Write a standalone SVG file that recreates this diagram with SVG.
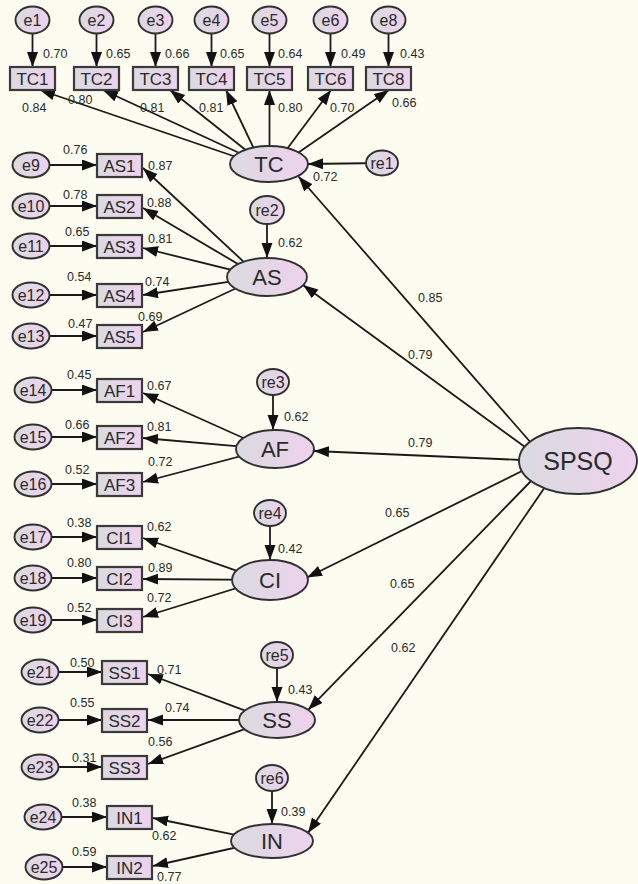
<svg xmlns="http://www.w3.org/2000/svg" width="638" height="884" viewBox="0 0 638 884">
  <defs>
    <linearGradient id="fillGrad" x1="0" y1="0" x2="1" y2="0">
      <stop offset="0" stop-color="#DADAE0"/>
      <stop offset="1" stop-color="#EED2ED"/>
    </linearGradient>
    <marker id="arrow" markerUnits="userSpaceOnUse" markerWidth="17" markerHeight="12" refX="15" refY="5.5" orient="auto">
      <path d="M0,0 L15,5.5 L0,11 Z" fill="#111"/>
    </marker>
    <style>
      .bg { fill: #FCFCF0; }
      .conn line { stroke: #1a1a1a; stroke-width: 1.8; marker-end: url(#arrow); }
      .shape { fill: url(#fillGrad); stroke: #303030; stroke-width: 1.9; }
      .box { fill: url(#fillGrad); stroke: #3a3a3a; stroke-width: 2.2; }
      text { font-family: "Liberation Sans", Arial, sans-serif; fill: #2a2a2a; }
      .num { font-size: 12.5px; }
      .obs { font-size: 17px; text-anchor: middle; }
      .err { font-size: 16px; text-anchor: middle; }
      .lat { font-size: 22px; text-anchor: middle; }
      .big { font-size: 25px; text-anchor: middle; }
    </style>
  </defs>

  <rect class="bg" x="0" y="0" width="638" height="884"/>

  <!-- connectors -->
  <g id="connectors" class="conn">
    <!-- TC indicators: error terms -->
    <line x1="32.5" y1="20" x2="32.5" y2="67"/>
    <line x1="96.5" y1="20" x2="96.5" y2="67"/>
    <line x1="155.5" y1="20" x2="155.5" y2="67"/>
    <line x1="211.5" y1="20" x2="211.5" y2="67"/>
    <line x1="269.5" y1="20" x2="269.5" y2="67"/>
    <line x1="330.5" y1="20" x2="330.5" y2="67"/>
    <line x1="388.5" y1="20" x2="388.5" y2="67"/>
    <!-- TC loadings -->
    <line x1="245" y1="160" x2="40" y2="90"/>
    <line x1="248" y1="157" x2="103" y2="90"/>
    <line x1="252" y1="155" x2="170" y2="90"/>
    <line x1="256" y1="153" x2="226" y2="90"/>
    <line x1="269.5" y1="155" x2="269.5" y2="90"/>
    <line x1="284" y1="153" x2="331" y2="90"/>
    <line x1="292" y1="157" x2="389" y2="90"/>
    <line x1="382" y1="163" x2="308" y2="164"/>

    <!-- AS -->
    <line x1="31" y1="165" x2="97" y2="165"/>
    <line x1="31" y1="206" x2="97" y2="206"/>
    <line x1="31" y1="246" x2="97" y2="246"/>
    <line x1="31" y1="295" x2="97" y2="295"/>
    <line x1="31" y1="336" x2="97" y2="336"/>
    <line x1="260" y1="277" x2="143" y2="168"/>
    <line x1="260" y1="277" x2="143" y2="208"/>
    <line x1="260" y1="277" x2="143" y2="248"/>
    <line x1="260" y1="277" x2="143" y2="295"/>
    <line x1="260" y1="277" x2="143" y2="332"/>
    <line x1="267" y1="210" x2="267" y2="258"/>

    <!-- AF -->
    <line x1="33" y1="390" x2="97" y2="390"/>
    <line x1="33" y1="437" x2="97" y2="437"/>
    <line x1="33" y1="484" x2="97" y2="484"/>
    <line x1="268" y1="449" x2="143" y2="393"/>
    <line x1="268" y1="449" x2="143" y2="438"/>
    <line x1="268" y1="449" x2="143" y2="482"/>
    <line x1="273" y1="382" x2="273" y2="430"/>

    <!-- CI -->
    <line x1="33" y1="537" x2="97" y2="537"/>
    <line x1="33" y1="578" x2="97" y2="578"/>
    <line x1="33" y1="620" x2="97" y2="620"/>
    <line x1="263" y1="580" x2="143" y2="538"/>
    <line x1="263" y1="580" x2="143" y2="579"/>
    <line x1="263" y1="580" x2="143" y2="617"/>
    <line x1="270" y1="513" x2="270" y2="560"/>

    <!-- SS -->
    <line x1="40" y1="672" x2="102" y2="672"/>
    <line x1="40" y1="720" x2="102" y2="720"/>
    <line x1="40" y1="767" x2="102" y2="767"/>
    <line x1="270" y1="720" x2="148" y2="674"/>
    <line x1="270" y1="720" x2="148" y2="720"/>
    <line x1="270" y1="720" x2="148" y2="764"/>
    <line x1="277" y1="655" x2="277" y2="702"/>

    <!-- IN -->
    <line x1="43" y1="817" x2="107" y2="817"/>
    <line x1="44" y1="867" x2="107" y2="867"/>
    <line x1="265" y1="841" x2="153" y2="818"/>
    <line x1="265" y1="841" x2="153" y2="866"/>
    <line x1="272" y1="778" x2="272" y2="824"/>

    <!-- SPSQ structural paths -->
    <line x1="532" y1="444" x2="298.5" y2="176.5"/>
    <line x1="525" y1="447" x2="303" y2="285"/>
    <line x1="522" y1="460" x2="314" y2="451"/>
    <line x1="524" y1="470" x2="307" y2="577.5"/>
    <line x1="532" y1="480" x2="308.3" y2="709.7"/>
    <line x1="545" y1="487" x2="308" y2="833"/>
  </g>

  <!-- path coefficients -->
  <g id="coefficients">
    <text class="num" x="43" y="58">0.70</text>
    <text class="num" x="106" y="58">0.65</text>
    <text class="num" x="165" y="58">0.66</text>
    <text class="num" x="220" y="58">0.65</text>
    <text class="num" x="278" y="58">0.64</text>
    <text class="num" x="341" y="58">0.49</text>
    <text class="num" x="400" y="58">0.43</text>
    <text class="num" x="22" y="112">0.84</text>
    <text class="num" x="68" y="104">0.80</text>
    <text class="num" x="140" y="112">0.81</text>
    <text class="num" x="199" y="112">0.81</text>
    <text class="num" x="278" y="112">0.80</text>
    <text class="num" x="330" y="112">0.70</text>
    <text class="num" x="392" y="107">0.66</text>
    <text class="num" x="313" y="181">0.72</text>

    <text class="num" x="63" y="154">0.76</text>
    <text class="num" x="148" y="170">0.87</text>
    <text class="num" x="63" y="199">0.78</text>
    <text class="num" x="147" y="207">0.88</text>
    <text class="num" x="65" y="236">0.65</text>
    <text class="num" x="148" y="243">0.81</text>
    <text class="num" x="67" y="281">0.54</text>
    <text class="num" x="145" y="286">0.74</text>
    <text class="num" x="138" y="321">0.69</text>
    <text class="num" x="68" y="328">0.47</text>
    <text class="num" x="278" y="247">0.62</text>
    <text class="num" x="418" y="302">0.85</text>
    <text class="num" x="408" y="359">0.79</text>

    <text class="num" x="67" y="379">0.45</text>
    <text class="num" x="147" y="390">0.67</text>
    <text class="num" x="65" y="429">0.66</text>
    <text class="num" x="147" y="431">0.81</text>
    <text class="num" x="65" y="474">0.52</text>
    <text class="num" x="148" y="466">0.72</text>
    <text class="num" x="284" y="421">0.62</text>
    <text class="num" x="408" y="447">0.79</text>

    <text class="num" x="67" y="527">0.38</text>
    <text class="num" x="147" y="531">0.62</text>
    <text class="num" x="67" y="567">0.80</text>
    <text class="num" x="148" y="572">0.89</text>
    <text class="num" x="147" y="602">0.72</text>
    <text class="num" x="67" y="612">0.52</text>
    <text class="num" x="278" y="553">0.42</text>
    <text class="num" x="385" y="517">0.65</text>
    <text class="num" x="390" y="588">0.65</text>
    <text class="num" x="391" y="652">0.62</text>

    <text class="num" x="70" y="667">0.50</text>
    <text class="num" x="157" y="674">0.71</text>
    <text class="num" x="70" y="707">0.55</text>
    <text class="num" x="165" y="712">0.74</text>
    <text class="num" x="148" y="746">0.56</text>
    <text class="num" x="72" y="762">0.31</text>
    <text class="num" x="288" y="694">0.43</text>

    <text class="num" x="72" y="807">0.38</text>
    <text class="num" x="152" y="840">0.62</text>
    <text class="num" x="72" y="856">0.59</text>
    <text class="num" x="157" y="881">0.77</text>
    <text class="num" x="281" y="816">0.39</text>
  </g>

  <!-- error terms, TC indicators -->
  <g id="e1"><ellipse class="shape" cx="32.5" cy="20" rx="17" ry="13.5"/><text class="err" x="32.5" y="25.5">e1</text></g>
  <g id="e2"><ellipse class="shape" cx="96.5" cy="20" rx="17" ry="13.5"/><text class="err" x="96.5" y="25.5">e2</text></g>
  <g id="e3"><ellipse class="shape" cx="155.5" cy="20" rx="17" ry="13.5"/><text class="err" x="155.5" y="25.5">e3</text></g>
  <g id="e4"><ellipse class="shape" cx="211.5" cy="20" rx="17" ry="13.5"/><text class="err" x="211.5" y="25.5">e4</text></g>
  <g id="e5"><ellipse class="shape" cx="269.5" cy="20" rx="17" ry="13.5"/><text class="err" x="269.5" y="25.5">e5</text></g>
  <g id="e6"><ellipse class="shape" cx="330.5" cy="20" rx="17" ry="13.5"/><text class="err" x="330.5" y="25.5">e6</text></g>
  <g id="e8"><ellipse class="shape" cx="388.5" cy="20" rx="17" ry="13.5"/><text class="err" x="388.5" y="25.5">e8</text></g>

  <!-- TC indicators -->
  <g id="TC1"><rect class="box" x="10" y="67" width="45" height="23"/><text class="obs" x="32.5" y="84.5">TC1</text></g>
  <g id="TC2"><rect class="box" x="74" y="67" width="45" height="23"/><text class="obs" x="96.5" y="84.5">TC2</text></g>
  <g id="TC3"><rect class="box" x="133" y="67" width="45" height="23"/><text class="obs" x="155.5" y="84.5">TC3</text></g>
  <g id="TC4"><rect class="box" x="189" y="67" width="45" height="23"/><text class="obs" x="211.5" y="84.5">TC4</text></g>
  <g id="TC5"><rect class="box" x="247" y="67" width="45" height="23"/><text class="obs" x="269.5" y="84.5">TC5</text></g>
  <g id="TC6"><rect class="box" x="308" y="67" width="45" height="23"/><text class="obs" x="330.5" y="84.5">TC6</text></g>
  <g id="TC8"><rect class="box" x="366" y="67" width="45" height="23"/><text class="obs" x="388.5" y="84.5">TC8</text></g>

  <!-- AS block -->
  <g id="e9"><ellipse class="shape" cx="31" cy="165" rx="18.5" ry="12.5"/><text class="err" x="31" y="170.5">e9</text></g>
  <g id="e10"><ellipse class="shape" cx="31" cy="206" rx="18.5" ry="12.5"/><text class="err" x="31" y="211.5">e10</text></g>
  <g id="e11"><ellipse class="shape" cx="31" cy="246" rx="18.5" ry="12.5"/><text class="err" x="31" y="251.5">e11</text></g>
  <g id="e12"><ellipse class="shape" cx="31" cy="295" rx="18.5" ry="12.5"/><text class="err" x="31" y="300.5">e12</text></g>
  <g id="e13"><ellipse class="shape" cx="31" cy="336" rx="18.5" ry="12.5"/><text class="err" x="31" y="341.5">e13</text></g>
  <g id="AS1"><rect class="box" x="97" y="154" width="45" height="23"/><text class="obs" x="119.5" y="171.5">AS1</text></g>
  <g id="AS2"><rect class="box" x="97" y="195" width="45" height="23"/><text class="obs" x="119.5" y="212.5">AS2</text></g>
  <g id="AS3"><rect class="box" x="97" y="235" width="45" height="23"/><text class="obs" x="119.5" y="252.5">AS3</text></g>
  <g id="AS4"><rect class="box" x="97" y="284" width="45" height="23"/><text class="obs" x="119.5" y="301.5">AS4</text></g>
  <g id="AS5"><rect class="box" x="97" y="325" width="45" height="23"/><text class="obs" x="119.5" y="342.5">AS5</text></g>

  <!-- AF block -->
  <g id="e14"><ellipse class="shape" cx="33" cy="390" rx="18.5" ry="12.5"/><text class="err" x="33" y="395.5">e14</text></g>
  <g id="e15"><ellipse class="shape" cx="33" cy="437" rx="18.5" ry="12.5"/><text class="err" x="33" y="442.5">e15</text></g>
  <g id="e16"><ellipse class="shape" cx="33" cy="484" rx="18.5" ry="12.5"/><text class="err" x="33" y="489.5">e16</text></g>
  <g id="AF1"><rect class="box" x="97" y="379" width="45" height="23"/><text class="obs" x="119.5" y="396.5">AF1</text></g>
  <g id="AF2"><rect class="box" x="97" y="426" width="45" height="23"/><text class="obs" x="119.5" y="443.5">AF2</text></g>
  <g id="AF3"><rect class="box" x="97" y="473" width="45" height="23"/><text class="obs" x="119.5" y="490.5">AF3</text></g>

  <!-- CI block -->
  <g id="e17"><ellipse class="shape" cx="33" cy="537" rx="18.5" ry="12.5"/><text class="err" x="33" y="542.5">e17</text></g>
  <g id="e18"><ellipse class="shape" cx="33" cy="578" rx="18.5" ry="12.5"/><text class="err" x="33" y="583.5">e18</text></g>
  <g id="e19"><ellipse class="shape" cx="33" cy="620" rx="18.5" ry="12.5"/><text class="err" x="33" y="625.5">e19</text></g>
  <g id="CI1"><rect class="box" x="97" y="526" width="45" height="23"/><text class="obs" x="119.5" y="543.5">CI1</text></g>
  <g id="CI2"><rect class="box" x="97" y="567" width="45" height="23"/><text class="obs" x="119.5" y="584.5">CI2</text></g>
  <g id="CI3"><rect class="box" x="97" y="609" width="45" height="23"/><text class="obs" x="119.5" y="626.5">CI3</text></g>

  <!-- SS block -->
  <g id="e21"><ellipse class="shape" cx="40" cy="672" rx="18.5" ry="12.5"/><text class="err" x="40" y="677.5">e21</text></g>
  <g id="e22"><ellipse class="shape" cx="40" cy="720" rx="18.5" ry="12.5"/><text class="err" x="40" y="725.5">e22</text></g>
  <g id="e23"><ellipse class="shape" cx="40" cy="767" rx="18.5" ry="12.5"/><text class="err" x="40" y="772.5">e23</text></g>
  <g id="SS1"><rect class="box" x="102" y="661" width="45" height="23"/><text class="obs" x="124.5" y="678.5">SS1</text></g>
  <g id="SS2"><rect class="box" x="102" y="709" width="45" height="23"/><text class="obs" x="124.5" y="726.5">SS2</text></g>
  <g id="SS3"><rect class="box" x="102" y="756" width="45" height="23"/><text class="obs" x="124.5" y="773.5">SS3</text></g>

  <!-- IN block -->
  <g id="e24"><ellipse class="shape" cx="43" cy="817" rx="18.5" ry="12.5"/><text class="err" x="43" y="822.5">e24</text></g>
  <g id="e25"><ellipse class="shape" cx="44" cy="867" rx="18.5" ry="12.5"/><text class="err" x="44" y="872.5">e25</text></g>
  <g id="IN1"><rect class="box" x="107" y="806" width="45" height="23"/><text class="obs" x="129.5" y="823.5">IN1</text></g>
  <g id="IN2"><rect class="box" x="107" y="856" width="45" height="23"/><text class="obs" x="129.5" y="873.5">IN2</text></g>

  <!-- latent factors -->
  <g id="TC"><ellipse class="shape" cx="269" cy="164" rx="39" ry="18"/><text class="lat" x="269" y="172">TC</text></g>
  <g id="AS"><ellipse class="shape" cx="267" cy="277" rx="40" ry="19"/><text class="lat" x="267" y="285">AS</text></g>
  <g id="AF"><ellipse class="shape" cx="275" cy="449" rx="39" ry="19"/><text class="lat" x="275" y="457">AF</text></g>
  <g id="CI"><ellipse class="shape" cx="270" cy="580" rx="38" ry="20"/><text class="lat" x="270" y="588">CI</text></g>
  <g id="SS"><ellipse class="shape" cx="277" cy="720" rx="38" ry="18"/><text class="lat" x="277" y="728">SS</text></g>
  <g id="IN"><ellipse class="shape" cx="272" cy="841" rx="41" ry="17"/><text class="lat" x="272" y="849">IN</text></g>
  <g id="SPSQ"><ellipse class="shape" cx="578" cy="461" rx="59" ry="33"/><text class="big" x="578" y="470">SPSQ</text></g>

  <!-- disturbances -->
  <g id="re1"><ellipse class="shape" cx="382" cy="163" rx="16" ry="12.5"/><text class="err" x="382" y="168.5">re1</text></g>
  <g id="re2"><ellipse class="shape" cx="267" cy="210" rx="17" ry="14"/><text class="err" x="267" y="215.5">re2</text></g>
  <g id="re3"><ellipse class="shape" cx="273" cy="382" rx="16" ry="13"/><text class="err" x="273" y="387.5">re3</text></g>
  <g id="re4"><ellipse class="shape" cx="270" cy="513" rx="16" ry="13"/><text class="err" x="270" y="518.5">re4</text></g>
  <g id="re5"><ellipse class="shape" cx="277" cy="655" rx="16" ry="13"/><text class="err" x="277" y="660.5">re5</text></g>
  <g id="re6"><ellipse class="shape" cx="272" cy="778" rx="16" ry="13"/><text class="err" x="272" y="783.5">re6</text></g>
</svg>
